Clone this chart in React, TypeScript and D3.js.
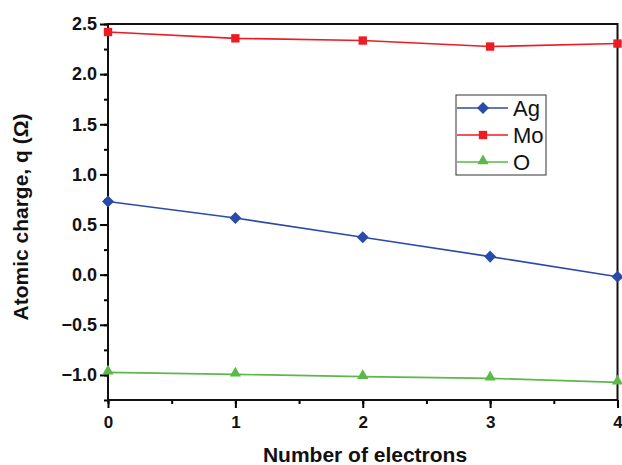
import React, { useEffect, useRef } from "react";
import * as d3 from "d3";

const electrons = [0, 1, 2, 3, 4];
const agCharge = [0.73, 0.565, 0.373, 0.18, -0.02];
const moCharge = [2.42, 2.357, 2.335, 2.275, 2.305];
const oCharge = [-0.974, -0.994, -1.017, -1.034, -1.074];

const seriesNames = ["Ag", "Mo", "O"];
const seriesColors = ["#2b4ba8", "#ed1c24", "#5bb947"];
const seriesSymbols = [d3.symbolDiamond2, d3.symbolSquare, d3.symbolTriangle];
const seriesSizes = [92, 70, 55];

const yTicks = [-1.0, -0.5, 0.0, 0.5, 1.0, 1.5, 2.0, 2.5];
const xTicks = [0, 1, 2, 3, 4];

const width = 622;
const height = 465;

export default function App() {
  const svgRef = useRef<SVGSVGElement>(null);

  useEffect(() => {
    if (!svgRef.current) return;
    const svg = d3.select(svgRef.current);
    svg.selectAll("*").remove();

    const margin = { top: 24, right: 4, bottom: 65, left: 108 };
    const x = d3
      .scaleLinear()
      .domain([0, 4])
      .range([margin.left, width - margin.right - 0.5]);
    const y = d3
      .scaleLinear()
      .domain([-1.25, 2.5])
      .range([height - margin.bottom, margin.top]);

    const font = "Arial, 'Liberation Sans', Helvetica, sans-serif";

    // minor ticks
    const yMinor = d3.range(-1.25, 2.5001, 0.25);
    const xMinor = d3.range(0, 4.001, 0.5);

    const axisL = svg
      .append("g")
      .attr("transform", `translate(${margin.left},0)`)
      .call(d3.axisLeft(y).tickValues(yMinor).tickSize(4).tickFormat(() => ""));
    axisL.select(".domain").remove();
    axisL.selectAll("line").attr("stroke-width", 2);

    const axisLMajor = svg
      .append("g")
      .attr("transform", `translate(${margin.left},0)`)
      .call(
        d3
          .axisLeft(y)
          .tickValues(yTicks)
          .tickSize(8)
          .tickPadding(3)
          .tickFormat(d3.format(".1f"))
      );
    axisLMajor.select(".domain").remove();
    axisLMajor.selectAll("line").attr("stroke-width", 2);
    axisLMajor
      .selectAll("text")
      .style("font-family", font)
      .style("font-size", "18px")
      .style("font-weight", "bold")
      .attr("fill", "#111");

    const axisB = svg
      .append("g")
      .attr("transform", `translate(0,${height - margin.bottom})`)
      .call(d3.axisBottom(x).tickValues(xMinor).tickSize(4).tickFormat(() => ""));
    axisB.select(".domain").remove();
    axisB.selectAll("line").attr("stroke-width", 2);

    const axisBMajor = svg
      .append("g")
      .attr("transform", `translate(0,${height - margin.bottom})`)
      .call(
        d3
          .axisBottom(x)
          .tickValues(xTicks)
          .tickSize(8)
          .tickPadding(8)
          .tickFormat(d3.format("d"))
      );
    axisBMajor.select(".domain").remove();
    axisBMajor.selectAll("line").attr("stroke-width", 2);
    axisBMajor
      .selectAll("text")
      .style("font-family", font)
      .style("font-size", "17px")
      .style("font-weight", "bold")
      .attr("fill", "#111");

    // frame
    svg
      .append("rect")
      .attr("x", x(0))
      .attr("y", y(2.5))
      .attr("width", x(4) - x(0))
      .attr("height", y(-1.25) - y(2.5))
      .attr("fill", "none")
      .attr("stroke", "#111")
      .attr("stroke-width", 2);

    const allSeries = [agCharge, moCharge, oCharge];
    const line = d3
      .line<number>()
      .x((_d, i) => x(electrons[i]))
      .y((d) => y(d));

    allSeries.forEach((vals, si) => {
      svg
        .append("path")
        .datum(vals)
        .attr("d", line)
        .attr("fill", "none")
        .attr("stroke", seriesColors[si])
        .attr("stroke-width", 1.6);

      svg
        .selectAll(`.pt-${si}`)
        .data(vals)
        .enter()
        .append("path")
        .attr("class", `pt-${si}`)
        .attr(
          "d",
          d3.symbol().type(seriesSymbols[si]).size(seriesSizes[si])()
        )
        .attr(
          "transform",
          (d, i) =>
            `translate(${x(electrons[i])},${y(d) + (si === 2 ? -1 : 0)})`
        )
        .attr("fill", seriesColors[si]);
    });

    // legend
    const legend = svg.append("g").attr("transform", "translate(456,95)");
    legend
      .append("rect")
      .attr("width", 90)
      .attr("height", 80)
      .attr("fill", "#fff")
      .attr("stroke", "#333")
      .attr("stroke-width", 1);

    const items = legend
      .selectAll(".legend-item")
      .data(seriesNames)
      .enter()
      .append("g")
      .attr("class", "legend-item")
      .attr("transform", (_d, i) => `translate(0, ${13 + i * 27})`);

    items
      .append("line")
      .attr("x1", 1)
      .attr("x2", 52)
      .attr("stroke", (_d, i) => seriesColors[i])
      .attr("stroke-width", 1.6);

    items
      .append("path")
      .attr("d", (_d, i) =>
        d3.symbol().type(seriesSymbols[i]).size(seriesSizes[i])()
      )
      .attr("transform", (_d, i) => `translate(27,${i === 2 ? -1 : 0})`)
      .attr("fill", (_d, i) => seriesColors[i]);

    items
      .append("text")
      .attr("x", 57)
      .attr("y", 8)
      .style("font-family", font)
      .style("font-size", "22px")
      .attr("fill", "#111")
      .text((d) => d);

    // axis titles
    svg
      .append("text")
      .attr("x", 365)
      .attr("y", 462)
      .attr("text-anchor", "middle")
      .style("font-family", font)
      .style("font-size", "21px")
      .style("font-weight", "bold")
      .attr("fill", "#111")
      .text("Number of electrons");

    svg
      .append("text")
      .attr("transform", "translate(28,217) rotate(-90)")
      .attr("text-anchor", "middle")
      .style("font-family", font)
      .style("font-size", "21px")
      .style("font-weight", "bold")
      .attr("fill", "#111")
      .text("Atomic charge, q (Ω)");
  }, []);

  return (
    <div style={{ position: "fixed", left: 0, top: 0 }}>
      <svg ref={svgRef} width={width} height={height} style={{ display: "block", background: "#fff" }} />
    </div>
  );
}
